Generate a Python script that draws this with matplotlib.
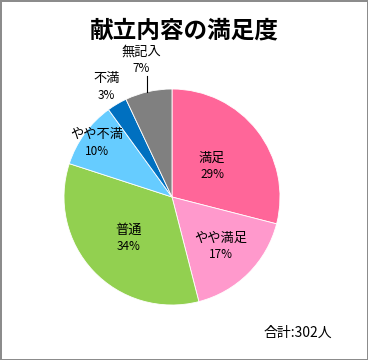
import matplotlib.pyplot as plt
import numpy as np

# Data
labels = ['満足', 'やや満足', '普通', 'やや不満', '不満', '無記入']
values = [29, 17, 34, 10, 3, 7]
colors = ['#FF6699', '#FF99CC', '#92D050', '#66CCFF', '#0070C0', '#808080']
label_r = [0.47, 0.64, 0.55, 0.86, 1.19, 1.30]

plt.rcParams['font.family'] = ['Noto Sans CJK JP', 'DejaVu Sans']

fig = plt.figure(figsize=(3.68, 3.6), dpi=100)
fig.patch.set_edgecolor('#8c8c8c')
fig.patch.set_linewidth(2)

# pie area: centre (172, 197) px, radius 108 px
ax = fig.add_axes([(172 - 108) / 368, (360 - 197 - 108) / 360, 216 / 368, 216 / 360])
wedges, _ = ax.pie(values, colors=colors, startangle=90, counterclock=False,
                   wedgeprops={'edgecolor': 'white', 'linewidth': 0.6})
ax.set_xlim(-1, 1)
ax.set_ylim(-1, 1)
ax.set_aspect('equal')
ax.axis('off')

for w, lab, v, r in zip(wedges, labels, values, label_r):
    ang = np.deg2rad((w.theta1 + w.theta2) / 2)
    x, y = r * np.cos(ang), r * np.sin(ang)
    ax.text(x, y + 0.07, lab, ha='center', va='center', fontsize=9.5, clip_on=False)
    ax.text(x, y - 0.08, f'{v}%', ha='center', va='center', fontsize=8.5, clip_on=False)
    if lab == '無記入':
        ax.plot([x + 0.05, x + 0.05], [y - 0.15, np.sin(ang)], color='black',
                lw=0.8, clip_on=False)

fig.text(0.5, 1 - 30 / 360, '献立内容の満足度', ha='center', va='center',
         fontsize=17, fontweight='bold')
fig.text(298 / 368, 1 - 333 / 360, '合計:302人', ha='center', va='center', fontsize=10)

fig.savefig('out.png', dpi=100)
